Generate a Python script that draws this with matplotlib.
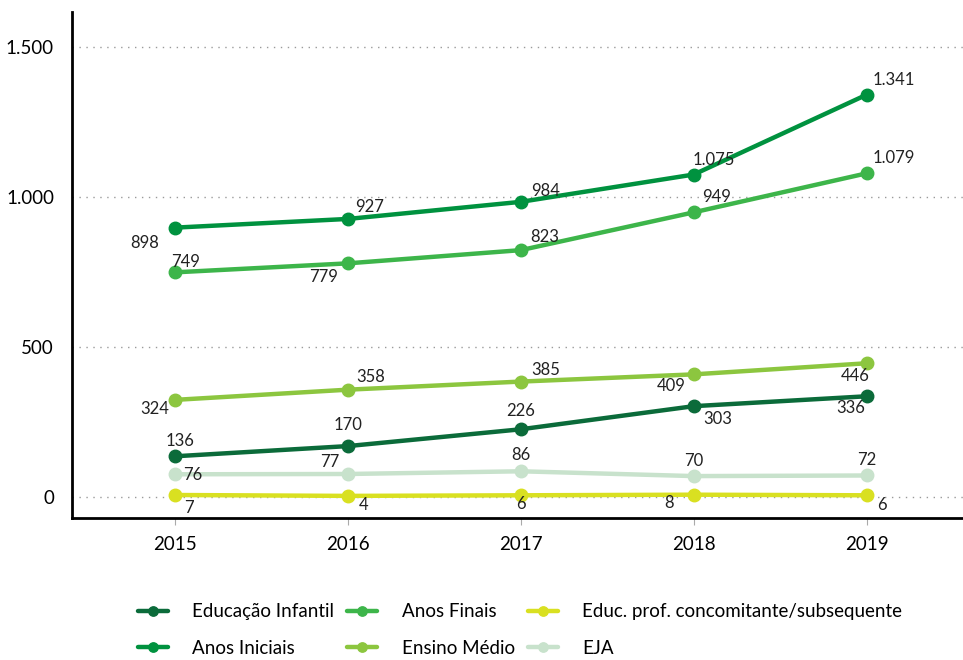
#!/usr/bin/env python3
"""Matrículas por etapa de ensino, 2015-2019 (line chart)."""
import matplotlib
matplotlib.use("Agg")
import matplotlib.pyplot as plt
from matplotlib.ticker import FuncFormatter

plt.rcParams["font.family"] = ["Lato", "DejaVu Sans"]

years = [2015, 2016, 2017, 2018, 2019]
series_names = ["Educação Infantil", "Anos Iniciais", "Anos Finais",
                "Ensino Médio", "Educ. prof. concomitante/subsequente", "EJA"]
educ_infantil = [136, 170, 226, 303, 336]
anos_iniciais = [898, 927, 984, 1075, 1341]
anos_finais = [749, 779, 823, 949, 1079]
ensino_medio = [324, 358, 385, 409, 446]
educ_prof = [7, 4, 6, 8, 6]
eja = [76, 77, 86, 70, 72]

colors = ["#0b6b3a", "#00923f", "#3db54a", "#8cc63f", "#d9e021", "#c8e2cc"]

# label offsets (pixels) per series / point
offsets = [
    [(5, 15), (0, 21), (0, 18), (24, -13), (-16, -12)],        # Educação Infantil
    [(-30, -15), (22, 12), (25, 11), (20, 15), (27, 15)],      # Anos Iniciais
    [(10, 10), (-24, -14), (24, 13), (23, 15), (27, 15)],      # Anos Finais
    [(-20, -9), (23, 13), (25, 12), (-23, -12), (-11, -13)],   # Ensino Médio
    [(14, -13), (16, -9), (0, -9), (-25, -8), (15, -10)],      # Educ. prof.
    [(18, -1), (-18, 12), (0, 16), (0, 15), (0, 15)],          # EJA
]

data = [educ_infantil, anos_iniciais, anos_finais, ensino_medio, educ_prof, eja]


def fmt(v):
    return f"{v:,.0f}".replace(",", ".")


fig = plt.figure(figsize=(9.63, 6.6), dpi=100)
ax = fig.add_axes([0.0748, 0.215, 0.925, 0.767])

# draw the low, light series first so the greens sit on top
order = [5, 4, 3, 0, 2, 1]
for i in order:
    ax.plot(years, data[i], color=colors[i], lw=3.2, marker="o", ms=9,
            solid_capstyle="round", zorder=3 + order.index(i), label=series_names[i])

for i in range(len(data)):
    for x, v, off in zip(years, data[i], offsets[i]):
        ax.annotate(fmt(v), (x, v), xytext=off, textcoords="offset pixels",
                    ha="center", va="center", fontsize=12, color="#222222", zorder=20)

ax.set_xlim(2014.404, 2019.556)
ax.set_ylim(-70, 1617)
ax.set_yticks([0, 500, 1000, 1500])
ax.yaxis.set_major_formatter(FuncFormatter(lambda v, _: fmt(v)))
ax.set_xticks(years)
ax.tick_params(axis="y", length=0, labelsize=13.5, pad=13)
ax.tick_params(axis="x", length=5, width=0.8, color="#aaaaaa", labelsize=13.5, pad=8,
               direction="out")
ax.grid(True, axis="y", ls=(0, (1, 4)), color="#9a9a9a", lw=1)
ax.set_axisbelow(True)
for s in ("top", "right"):
    ax.spines[s].set_visible(False)
for s in ("left", "bottom"):
    ax.spines[s].set_linewidth(2)
    ax.spines[s].set_color("black")

handles, labels = ax.get_legend_handles_labels()
lookup = dict(zip(labels, handles))
ax.legend([lookup[n] for n in series_names], series_names, ncol=3,
          loc="upper left", bbox_to_anchor=(0.055, -0.135), frameon=False,
          fontsize=13.5, handlelength=1.6, columnspacing=0.7, labelspacing=1.05,
          handletextpad=1.3, markerscale=0.75)

fig.savefig("out.png", dpi=100)
